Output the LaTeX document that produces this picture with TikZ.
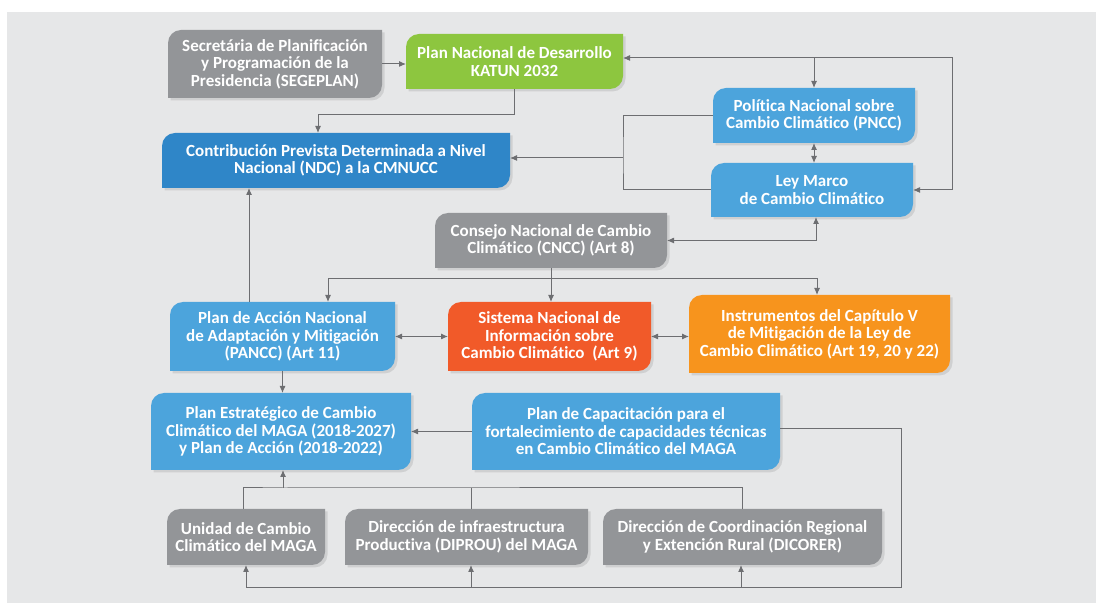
\documentclass[tikz,border=0pt]{standalone}
\usepackage{fontspec}
\setmainfont[Ligatures={NoCommon,NoRare,NoContextual}]{Carlito}
\usepackage{tikz}
\usetikzlibrary{positioning,calc,arrows.meta,shadows,backgrounds}
\definecolor{pagegray}{HTML}{E6E7E8}
\definecolor{boxgray}{HTML}{939598}
\definecolor{boxgreen}{HTML}{8DC63F}
\definecolor{boxnavy}{HTML}{2F86C8}
\definecolor{boxblue}{HTML}{4CA4DC}
\definecolor{boxred}{HTML}{F15A29}
\definecolor{boxorange}{HTML}{F7941D}
\definecolor{linegray}{HTML}{6D6E71}
\tikzset{box/.style={text=white,font=\bfseries\fontsize{17}{17.5}\selectfont,align=center,inner sep=0pt,outer sep=0pt}}
\tikzset{link/.style={line width=1pt,draw=linegray,>={Latex[length=7pt,width=6pt]}}}
\tikzset{leaf/.style={fill=#1,drop shadow={opacity=.22,shadow xshift=2.5pt,shadow yshift=-2.5pt}}}

\begin{document}
\begin{tikzpicture}[x=1pt,y=1pt]
	\useasboundingbox (0,0) rectangle (1096,603);
	%% boxes
	\node[box,minimum width=214,minimum height=68] (seg) at (275,539) {Secretária de Planificación\\y Programación de la\\Presidencia (SEGEPLAN)};
	\node[box,minimum width=217,minimum height=55] (katun) at (514.5,541.5) {Plan Nacional de Desarrollo\\KATUN 2032};
	\node[box,minimum width=348,minimum height=55] (ndc) at (336,442.5) {Contribución Prevista Determinada a Nivel\\Nacional (NDC) a la CMNUCC};
	\node[box,minimum width=202,minimum height=55] (pncc) at (814,487.5) {Política Nacional sobre\\Cambio Climático (PNCC)};
	\node[box,minimum width=202,minimum height=54] (ley) at (812,413) {Ley Marco\\de Cambio Climático};
	\node[box,minimum width=232,minimum height=55] (cncc) at (551,362.5) {Consejo Nacional de Cambio\\Climático (CNCC) (Art 8)};
	\node[box,minimum width=225,minimum height=69] (pancc) at (282.5,266.5) {Plan de Acción Nacional\\de Adaptación y Mitigación\\(PANCC) (Art 11)};
	\node[box,minimum width=203,minimum height=69] (sincc) at (549.5,266.5) {Sistema Nacional de\\Información sobre\\Cambio Climático~~(Art 9)};
	\node[box,minimum width=261,minimum height=78] (instr) at (819.5,269) {Instrumentos del Capítulo V\\de Mitigación de la Ley de\\Cambio Climático (Art 19, 20 y 22)};
	\node[box,minimum width=260,minimum height=77] (planest) at (281,171.5) {Plan Estratégico de Cambio\\Climático del MAGA (2018-2027)\\y Plan de Acción (2018-2022)};
	\node[box,minimum width=308,minimum height=77] (plancap) at (626,171.5) {Plan de Capacitación para el\\fortalecimiento de capacidades técnicas\\en Cambio Climático del MAGA};
	\node[box,minimum width=158,minimum height=56] (unidad) at (246,66) {Unidad de Cambio\\Climático del MAGA};
	\node[box,minimum width=243,minimum height=56] (diprou) at (466.5,66) {Dirección de infraestructura\\Productiva (DIPROU) del MAGA};
	\node[box,minimum width=279,minimum height=56] (dicorer) at (742.5,66) {Dirección de Coordinación Regional\\y Extención Rural (DICORER)};

	\begin{scope}[on background layer]
		\fill[pagegray] (7,0) rectangle (1096,591);
		\foreach \n/\c in {seg/boxgray,katun/boxgreen,ndc/boxnavy,pncc/boxblue,ley/boxblue,cncc/boxgray,pancc/boxblue,sincc/boxred,instr/boxorange,planest/boxblue,plancap/boxblue,unidad/boxgray,diprou/boxgray,dicorer/boxgray}
			\fill[leaf=\c] (\n.south west) -- ([yshift=-13pt]\n.north west) arc[start angle=180,end angle=90,radius=13pt] -- (\n.north east) -- ([yshift=13pt]\n.south east) arc[start angle=0,end angle=-90,radius=13pt] -- cycle;
	\end{scope}

	%% top part
	\draw[link,->] (seg.east) -- (seg.east -| katun.west);
	\draw[link,->] (katun.south) -- ++(0,-26) -| ([xshift=-18pt]ndc.north);
	\coordinate (loopR) at (952,545);
	\draw[link,<->] ([yshift=3.5pt]katun.east) -- (loopR) |- (ley.east);
	\draw[link,->] (loopR -| pncc.north) -- (pncc.north);
	\draw[link,<->] (pncc.south) -- (pncc.south |- ley.north);
	\coordinate (brk) at (623,445);
	\draw[link] (pncc.west) -| (brk) |- (ley.west);
	\draw[link,->] (brk) -- (brk -| ndc.east);
	\draw[link,<->] ([xshift=4pt]ley.south) |- (cncc.east);

	%% middle part
	\draw[link] (cncc.south) -- ++(0,-11) coordinate (split);
	\draw[link,->] (split) -- (split |- sincc.north);
	\draw[link,->] (split) -| ([xshift=45.5pt]pancc.north);
	\draw[link,->] (split) -| ([xshift=-2.5pt]instr.north);
	\draw[link,<->] (pancc.east) -- (sincc.west);
	\draw[link,<->] (sincc.east) -- (sincc.east -| instr.west);
	\draw[link,->] ([xshift=-33.5pt]pancc.north) -- ([xshift=-33.5pt]pancc.north |- ndc.south);
	\draw[link,->] (pancc.south) -- (pancc.south |- planest.north);

	%% bottom part
	\draw[link,->] (plancap.west) -- (planest.east);
	\coordinate (bus) at (283,115);
	\draw[link] ([xshift=-3pt]unidad.north) |- (bus) -| (dicorer.north);
	\draw[link] ([xshift=4.5pt]diprou.north) -- ([xshift=4.5pt]diprou.north |- bus);
	\draw[link,->] (bus) -- (bus |- planest.south);
	\coordinate (lowR) at (901,16);
	\draw[link] ([yshift=2.5pt]plancap.east) -| (lowR) -- (lowR -| unidad.south);
	\draw[link,->] (lowR -| unidad.south) -- (unidad.south);
	\draw[link,->] ([xshift=4.5pt]diprou.south |- lowR) -- ([xshift=4.5pt]diprou.south);
	\draw[link,->] ([xshift=-1.5pt]dicorer.south |- lowR) -- ([xshift=-1.5pt]dicorer.south);

\end{tikzpicture}
\end{document}
